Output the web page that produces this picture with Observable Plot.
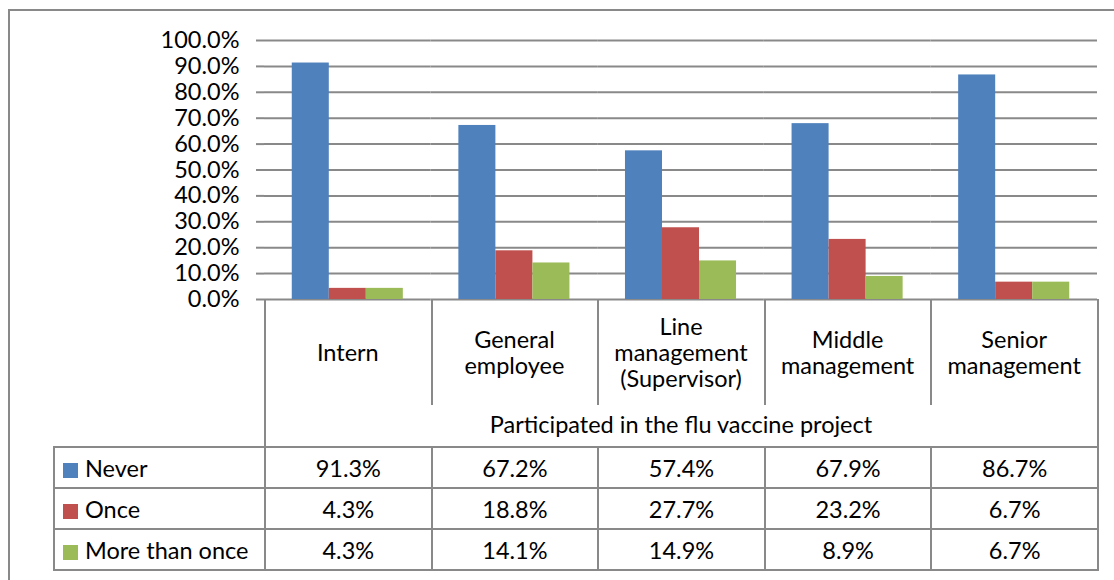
<!DOCTYPE html>
<html><head><meta charset="utf-8">
<script src="https://cdn.jsdelivr.net/npm/d3@7"></script>
<script src="https://cdn.jsdelivr.net/npm/@observablehq/plot@0.6"></script>
<style>
body{margin:0;background:#fff;}
#wrap{position:relative;width:1114px;height:580px;overflow:hidden;font-family:Lato,"Open Sans",sans-serif;background:#fff;}
#frame{position:absolute;left:8px;top:9px;width:1130px;height:620px;border:2px solid #898989;box-sizing:border-box;}
#chart{position:absolute;left:0;top:0;}
#tbl{position:absolute;left:53px;top:299px;border-collapse:collapse;table-layout:fixed;width:1044px;font-size:23.5px;color:#000;}
#tbl td{padding:0;text-align:center;border:0 solid #898989;}
#tbl tr.r1 td{height:106px;}
#tbl tr.r2 td{height:41px;}
#tbl tr.dr td{height:39px;border-width:2px;}
#tbl td.blank{border-right-width:2px;}
#tbl td.cat{border-left-width:2px;border-right-width:2px;}
#tbl td.span{border-left-width:2px;border-right-width:2px;}
#tbl td.leg{text-align:left;padding-left:8px;white-space:nowrap;}
.sw{display:inline-block;width:15px;height:15px;margin-right:7px;vertical-align:-1px;}
</style>
</head><body>
<div id="wrap"><div id="frame"></div><div id="chart"></div><table id="tbl"></table></div>
<script>
const categories = ["Intern","General employee","Line management (Supervisor)","Middle management","Senior management"];
const categoryLabels = ["Intern","General\nemployee","Line\nmanagement\n(Supervisor)","Middle\nmanagement","Senior\nmanagement"];
const series = ["Never","Once","More than once"];
const never = [0.913,0.672,0.574,0.679,0.867];
const once = [0.043,0.188,0.277,0.232,0.067];
const moreThanOnce = [0.043,0.141,0.149,0.089,0.067];
const seriesColors = ["#4F81BD","#C0504D","#9BBB59"];
const yTicks = [0,0.1,0.2,0.3,0.4,0.5,0.6,0.7,0.8,0.9,1.0];
const axisTitle = "Participated in the flu vaccine project";

const values = [never, once, moreThanOnce];
const data = categories.flatMap((c,i)=>series.map((s,j)=>({category:c, series:s, value:values[j][i]})));
const fmt = d3.format(".1%");
const fontFamily = 'Lato,"Open Sans",sans-serif';

const chart = Plot.plot({
  width:1114, height:580,
  marginLeft:264, marginRight:17, marginTop:40, marginBottom:281,
  style:{fontFamily, fontSize:"23.5px", color:"#000", background:"transparent"},
  fx:{domain:categories, padding:0, round:false},
  x:{domain:series, paddingInner:0, paddingOuter:0.75, round:false, axis:null},
  y:{domain:[0,1]},
  color:{domain:series, range:seriesColors},
  marks:[
    Plot.gridY(yTicks, {stroke:"#898989", strokeOpacity:1, strokeWidth:2}),
    Plot.barY(data, {fx:"category", x:"series", y:"value", fill:"series"}),
    Plot.axisY(yTicks, {tickFormat:".1%", tickSize:8, tickPadding:17, line:true, stroke:"#898989", strokeWidth:2, strokeOpacity:1, fill:"#000", fontSize:23.5, label:null}),
    Plot.axisFx({anchor:"bottom", tickSize:0, tickPadding:53, lineAnchor:"middle", lineHeight:1.12, fill:"#000", fontSize:23.5,
      tickFormat:d=>categoryLabels[categories.indexOf(d)],
      label:axisTitle, labelAnchor:"center", labelOffset:133})
  ]
});
document.getElementById("chart").appendChild(chart);

const tbl = d3.select("#tbl");
const cg = tbl.append("colgroup");
cg.append("col").style("width","211px");
categories.forEach(()=>cg.append("col").style("width", (833/categories.length)+"px"));
const r1 = tbl.append("tr").attr("class","r1");
r1.append("td").attr("class","blank");
categories.forEach(()=>r1.append("td").attr("class","cat"));
const r2 = tbl.append("tr").attr("class","r2");
r2.append("td").attr("class","blank");
r2.append("td").attr("class","span").attr("colspan",categories.length);
series.forEach((s,j)=>{
  const tr = tbl.append("tr").attr("class","dr");
  const td = tr.append("td").attr("class","leg");
  td.append("span").attr("class","sw").style("background",seriesColors[j]);
  td.append("span").text(s);
  values[j].forEach(v=>tr.append("td").text(fmt(v)));
});
</script>
</body></html>
